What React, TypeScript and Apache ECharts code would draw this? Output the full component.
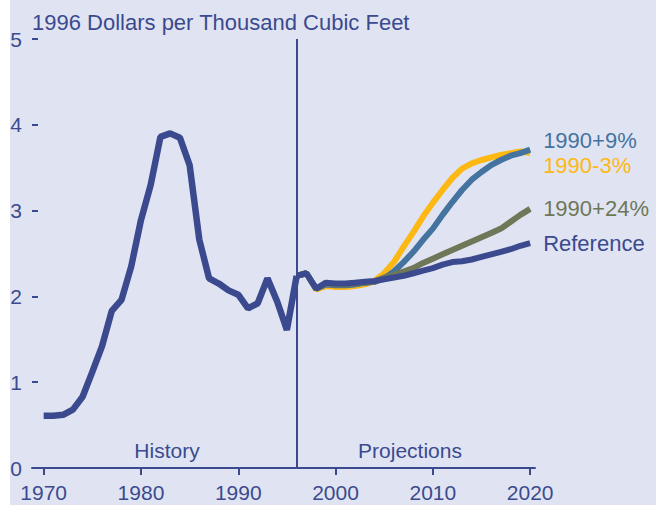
import React, { useEffect, useRef } from "react";
import * as echarts from "echarts";

const histYears = [1970, 1971, 1972, 1973, 1974, 1975, 1976, 1977, 1978, 1979, 1980, 1981, 1982, 1983, 1984, 1985, 1986, 1987, 1988, 1989, 1990, 1991, 1992, 1993, 1994, 1995, 1996];
const histValues = [0.61, 0.61, 0.62, 0.68, 0.83, 1.12, 1.42, 1.83, 1.96, 2.35, 2.89, 3.3, 3.86, 3.9, 3.85, 3.53, 2.66, 2.21, 2.15, 2.07, 2.02, 1.86, 1.92, 2.21, 1.94, 1.61, 2.24];

const projYears = [1996, 1997, 1998, 1999, 2000, 2001, 2002, 2003, 2004, 2005, 2006, 2007, 2008, 2009, 2010, 2011, 2012, 2013, 2014, 2015, 2016, 2017, 2018, 2019, 2020];
const referenceValues = [2.24, 2.27, 2.09, 2.16, 2.15, 2.15, 2.16, 2.17, 2.18, 2.2, 2.22, 2.24, 2.27, 2.3, 2.33, 2.37, 2.4, 2.41, 2.43, 2.46, 2.49, 2.52, 2.55, 2.59, 2.62];
const minus3Values = [2.24, 2.27, 2.08, 2.12, 2.11, 2.11, 2.12, 2.14, 2.18, 2.27, 2.4, 2.58, 2.75, 2.93, 3.09, 3.24, 3.38, 3.49, 3.55, 3.59, 3.62, 3.65, 3.67, 3.69, 3.67];
const plus9Values = [2.24, 2.27, 2.09, 2.14, 2.13, 2.13, 2.14, 2.16, 2.17, 2.21, 2.29, 2.4, 2.52, 2.66, 2.79, 2.95, 3.1, 3.24, 3.36, 3.45, 3.53, 3.59, 3.64, 3.67, 3.71];
const plus24Values = [2.24, 2.27, 2.09, 2.15, 2.14, 2.14, 2.15, 2.16, 2.17, 2.22, 2.25, 2.29, 2.33, 2.39, 2.44, 2.49, 2.54, 2.59, 2.64, 2.69, 2.74, 2.79, 2.87, 2.95, 3.02];

const xTicks = [1970, 1980, 1990, 2000, 2010, 2020];
const splitYear = 1996;
const unitLabel = "1996 Dollars per Thousand Cubic Feet";

const NAVY = "#3B4A8E";
const STEEL = "#44739F";
const AMBER = "#FDB813";
const OLIVE = "#6E7757";
const BG = "#E0E4F2";
const FONT = "Liberation Sans, Arial, sans-serif";

const pairs = (xs: number[], ys: number[]) => xs.map((x, i) => [x, ys[i]]);

export default function App() {
  const ref = useRef<HTMLDivElement>(null);
  useEffect(() => {
    if (!ref.current) return;
    const chart = echarts.init(ref.current, null, { renderer: "svg" });
    const endLabel = (name: string, color: string, dy: number) => ({
      show: true,
      formatter: name,
      color,
      fontSize: 22,
      fontFamily: FONT,
      distance: 13,
      offset: [0, dy],
    });
    chart.setOption({
      animation: false,
      backgroundColor: BG,
      textStyle: { fontFamily: FONT },
      grid: { left: 32, right: 121, top: 39, bottom: 37, containLabel: false },
      xAxis: {
        type: "value",
        min: 1968.8,
        max: 2020.5,
        splitLine: { show: false },
        axisLine: { show: true, lineStyle: { color: NAVY, width: 2 } },
        axisTick: { show: true, customValues: xTicks, length: 7, lineStyle: { color: NAVY, width: 2 } },
        axisLabel: {
          customValues: xTicks,
          color: NAVY,
          fontSize: 21,
          fontFamily: FONT,
          margin: 14,
          formatter: (v: number) => String(Math.round(v)),
        },
      },
      yAxis: {
        type: "value",
        min: 0,
        max: 5,
        interval: 1,
        splitLine: { show: false },
        axisLine: { show: false },
        axisTick: { show: true, inside: true, length: 6, lineStyle: { color: NAVY, width: 2 } },
        axisLabel: { color: NAVY, fontSize: 21, fontFamily: FONT, margin: 10 },
      },
      graphic: [
        { type: "rect", shape: { x: 0, y: 0, width: 10, height: 505 }, style: { fill: "#ffffff" }, silent: true },
        {
          type: "text",
          x: 32,
          y: 22.5,
          style: { text: unitLabel, fill: NAVY, fontSize: 22, fontFamily: FONT, textVerticalAlign: "middle" },
        },
        {
          type: "text",
          x: 167,
          y: 450,
          style: { text: "History", fill: NAVY, fontSize: 21, fontFamily: FONT, textAlign: "center", textVerticalAlign: "middle" },
        },
        {
          type: "text",
          x: 410,
          y: 450,
          style: { text: "Projections", fill: NAVY, fontSize: 21, fontFamily: FONT, textAlign: "center", textVerticalAlign: "middle" },
        },
      ],
      series: [
        {
          name: "History",
          type: "line",
          data: pairs(histYears, histValues),
          showSymbol: false,
          lineStyle: { color: NAVY, width: 6.5 },
          z: 5,
          markLine: {
            silent: true,
            symbol: "none",
            label: { show: false },
            lineStyle: { color: NAVY, width: 2, type: "solid" },
            data: [{ xAxis: splitYear }],
          },
        },
        {
          name: "1990-3%",
          type: "line",
          data: pairs(projYears, minus3Values),
          showSymbol: false,
          lineStyle: { color: AMBER, width: 6 },
          endLabel: endLabel("1990-3%", AMBER, 12.5),
          z: 2,
        },
        {
          name: "1990+9%",
          type: "line",
          data: pairs(projYears, plus9Values),
          showSymbol: false,
          lineStyle: { color: STEEL, width: 6 },
          endLabel: endLabel("1990+9%", STEEL, -9),
          z: 3,
        },
        {
          name: "1990+24%",
          type: "line",
          data: pairs(projYears, plus24Values),
          showSymbol: false,
          lineStyle: { color: OLIVE, width: 6 },
          endLabel: endLabel("1990+24%", OLIVE, 0),
          z: 4,
        },
        {
          name: "Reference",
          type: "line",
          data: pairs(projYears, referenceValues),
          showSymbol: false,
          lineStyle: { color: NAVY, width: 6 },
          endLabel: endLabel("Reference", NAVY, 0),
          z: 5,
        },
      ],
    });
    return () => chart.dispose();
  }, []);
  return (
    <div style={{ position: "fixed", left: 0, top: 0, width: 656, height: 505, background: "#fff" }}>
      <div ref={ref} style={{ width: 656, height: 505 }} />
    </div>
  );
}
